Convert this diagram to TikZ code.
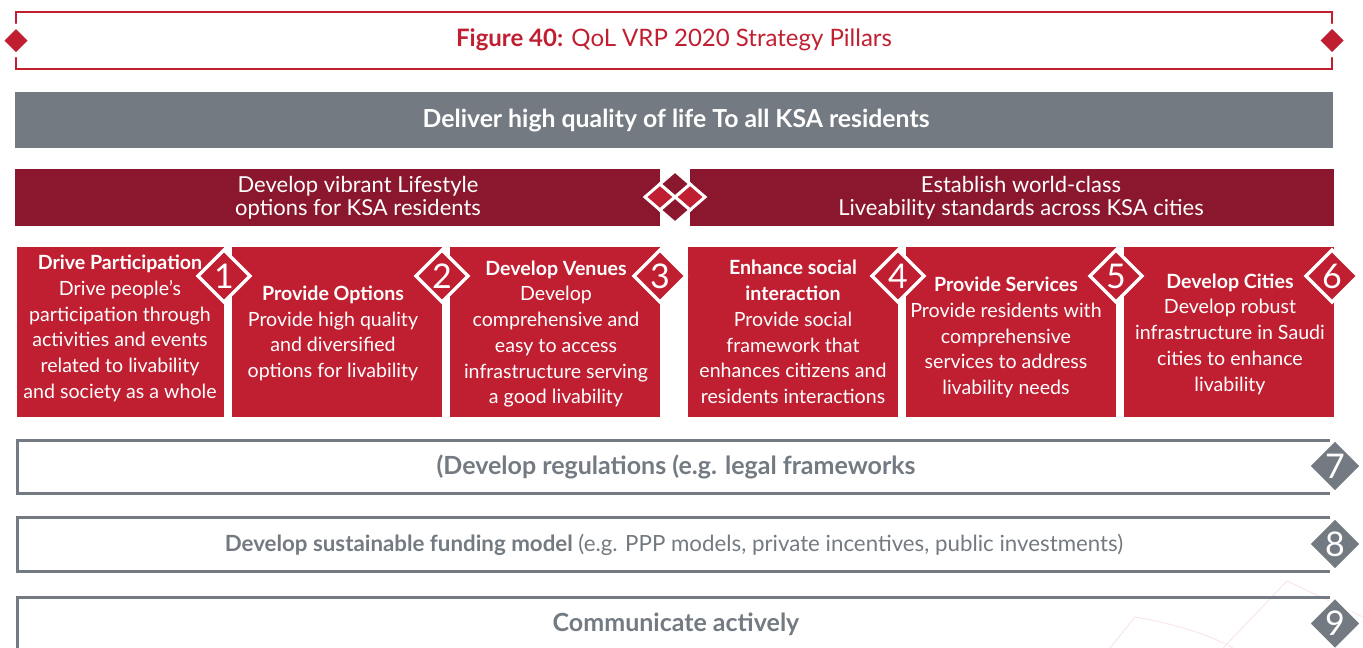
\documentclass[tikz,border=0pt]{standalone}
\usepackage{fontspec}
\setmainfont{Lato}
\usetikzlibrary{shapes.geometric}
\definecolor{qred}{HTML}{C01F31}
\definecolor{qdark}{HTML}{8A172D}
\definecolor{qgray}{HTML}{737A81}
\definecolor{qfaint}{HTML}{F8E6E9}
\begin{document}
\begin{tikzpicture}[x=1pt,y=-1pt,
  every node/.style={inner sep=0pt, outer sep=0pt},
  pillar/.style={fill=qred, minimum height=170pt},
  ptext/.style={text=white, align=center, font=\fontsize{19.6}{25.7}\selectfont},
  numdia/.style={diamond, aspect=1, fill=qred, draw=white, line width=3.5pt, minimum size=52pt, text=white, font=\fontsize{34}{34}\selectfont},
  graydia/.style={diamond, aspect=1, fill=qgray, draw=white, line width=3pt, minimum size=53pt, text=white, font=\fontsize{34}{34}\selectfont},
  tdia/.style={diamond, aspect=1, fill=qred, minimum size=23pt, preaction={draw=white, line width=8pt}},
  cdia/.style={diamond, draw=white, line width=3pt, minimum width=30pt, minimum height=26pt},
  darkbar/.style={fill=qdark, minimum height=57pt},
  bartext/.style={text=white, align=center, font=\fontsize{22}{23.5}\selectfont},
  openbox/.style={draw=qgray, line width=3pt},
  boxtext/.style={text=qgray, font=\fontsize{25}{28}\selectfont\bfseries}
]
\useasboundingbox (0,0) rectangle (1363,648);

% faint background lines
\draw[qfaint, line width=1pt] (1110,648) -- (1135,617) .. controls (1175,624) and (1208,634) .. (1233,648);
\draw[qfaint, line width=1pt] (1223,648) -- (1287,581) -- (1363,617);

% title box
\node (title) at (674,40.5) [minimum width=1316pt, minimum height=57pt] {};
\draw[qred, line width=2pt] (title.north west) rectangle (title.south east);
\node (ttext) at (674,40) [text=qred, font=\fontsize{24}{27}\selectfont] {\textbf{Figure 40:} QoL VRP 2020 Strategy Pillars};
\node[tdia] (tdl) at (title.west) {};
\node[tdia] (tdr) at (title.east) {};

% goal bar
\node (goal) at (674,120) [fill=qgray, minimum width=1318pt, minimum height=56pt] {};
\node (goaltext) at (676,121) [text=white, font=\fontsize{24.8}{27}\selectfont\bfseries] {Deliver high quality of life To all KSA residents};

% two dark bars
\node[darkbar, minimum width=645pt] (barl) at (337.5,197.5) {};
\node[darkbar, minimum width=644pt] (barr) at (1012,197.5) {};
\node[bartext] (barltext) at (358,198) {Develop vibrant Lifestyle\\options for KSA residents};
\node[bartext] (barrtext) at (1021,198) {Establish world-class\\Liveability standards across KSA cities};

% center diamonds
\node[cdia, fill=qred] (cl) at (660,197) {};
\node[cdia, fill=qred] (cr) at (690,197) {};
\node[cdia, fill=qdark] (ct) at (675,184) {};
\node[cdia, fill=qdark] (cb) at (675,210) {};

% pillar boxes
\node[pillar, minimum width=207pt] (p1) at (120.5,332) {};
\node[pillar, minimum width=210pt] (p2) at (337,332) {};
\node[pillar, minimum width=210pt] (p3) at (555,332) {};
\node[pillar, minimum width=210pt] (p4) at (793,332) {};
\node[pillar, minimum width=210pt] (p5) at (1011,332) {};
\node[pillar, minimum width=210pt] (p6) at (1229,332) {};

\node[ptext] (t1) at (120,328.5) {\textbf{Drive Participation}\\Drive people’s\\participation through\\activities and events\\related to livability\\and society as a whole};
\node[ptext] (t2) at (333,333.5) {\textbf{Provide Options}\\Provide high quality\\and diversified\\options for livability};
\node[ptext] (t3) at (556,334) {\textbf{Develop Venues}\\Develop\\comprehensive and\\easy to access\\infrastructure serving\\a good livability};
\node[ptext] (t4) at (793,332) {\textbf{Enhance social}\\\textbf{interaction}\\Provide social\\framework that\\enhances citizens and\\residents interactions};
\node[ptext] (t5) at (1006,337.5) {\textbf{Provide Services}\\Provide residents with\\comprehensive\\services to address\\livability needs};
\node[ptext] (t6) at (1230,334) {\textbf{Develop Cities}\\Develop robust\\infrastructure in Saudi\\cities to enhance\\livability};

\node[numdia] (d1) at (224,276) {1};
\node[numdia] (d2) at (442,276) {2};
\node[numdia] (d3) at (660,276) {3};
\node[numdia] (d4) at (898,276) {4};
\node[numdia] (d5) at (1116,276) {5};
\node[numdia] (d6) at (1332,276) {6};

% bottom boxes
\node (b7) at (673.5,466.5) [minimum width=1313pt, minimum height=53pt] {};
\draw[openbox] (b7.north east) -- (b7.north west) -- (b7.south west) -- (b7.south east);
\node[boxtext] (b7text) at (676,467) {(Develop regulations (e.g. legal frameworks};
\node[graydia] (d7) at (1335,466) {7};

\node (b8) at (673.5,544) [minimum width=1313pt, minimum height=54pt] {};
\draw[openbox] (b8.north east) -- (b8.north west) -- (b8.south west) -- (b8.south east);
\node (b8text) at (674,545) [text=qgray, font=\fontsize{22.3}{25}\selectfont] {\textbf{Develop sustainable funding model} (e.g. PPP models, private incentives, public investments)};
\node[graydia] (d8) at (1335,544) {8};

\coordinate (b9ne) at (1330,597.5);
\coordinate (b9nw) at (17,597.5);
\coordinate (b9sw) at (17,648);
\draw[openbox] (b9ne) -- (b9nw) -- (b9sw);
\node[boxtext] (b9text) at (676,624) {Communicate actively};
\node[graydia] (d9) at (1335,623.5) {9};
\end{tikzpicture}
\end{document}
